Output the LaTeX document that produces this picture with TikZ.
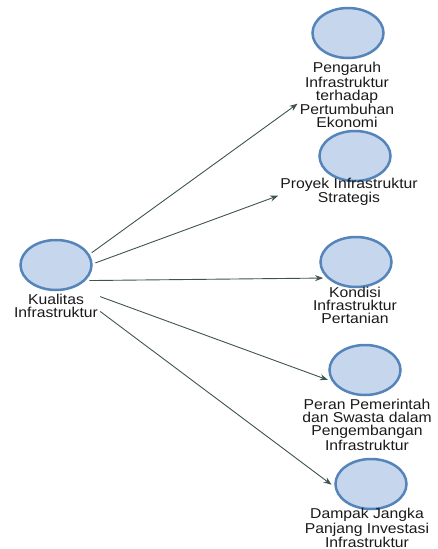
\documentclass[tikz,border=0pt]{standalone}
\usepackage{fontspec}
\setmainfont{Liberation Sans}[FakeStretch=1.1]
\usetikzlibrary{arrows.meta}
\usetikzlibrary{shapes.geometric}
\definecolor{cfill}{RGB}{198,214,236}
\definecolor{cline}{RGB}{84,132,186}
\definecolor{carrow}{RGB}{62,84,80}
\tikzset{var/.style = {draw = cline, fill = cfill, ellipse, line width = 2.5pt, minimum width = 71pt, minimum height = 50pt, inner sep = 0, outer sep = 4pt}}
\tikzset{lab/.style = {align = center, font = \fontsize{14.3}{13}\selectfont, text = black!90, inner sep = 2pt}}
\tikzset{link/.style = {-{Stealth[length = 8pt, width = 6pt]}, carrow, line width = 0.9pt}}

\begin{document}
\begin{tikzpicture}[x = 1pt, y = -1pt]
    \useasboundingbox (0, 0) rectangle (438, 549);

    \node [var] (kual) at (56, 265) {};
    \node [lab] (kualt) at (56, 306) {Kualitas\\Infrastruktur};

    \node [var] (peng) at (348, 33) {};
    \node [lab] (pengt) at (347, 95) {Pengaruh\\Infrastruktur\\terhadap\\Pertumbuhan\\Ekonomi};
    \node [var] (proy) at (355, 156) {};
    \node [lab] (proyt) at (349, 192) {Proyek Infrastruktur\\Strategis};
    \node [var] (kond) at (356, 262) {};
    \node [lab] (kondt) at (355, 305) {Kondisi\\Infrastruktur\\Pertanian};
    \node [var] (peran) at (365, 370) {};
    \node [lab] (perant) at (367, 425) {Peran Pemerintah\\dan Swasta dalam\\Pengembangan\\Infrastruktur};
    \node [var] (damp) at (371, 484) {};
    \node [lab] (dampt) at (367, 528) {Dampak Jangka\\Panjang Investasi\\Infrastruktur};

    \draw [link] (kual.19) -- (pengt.190);
    \draw [link] (kual.3) -- (proyt.183);
    \draw [link] (kual.-25) -- (kond.206);
    \draw [link] (kualt.12) -- (peran.195);
    \draw [link] (kualt.-7) -- (damp.181);
\end{tikzpicture}
\end{document}
